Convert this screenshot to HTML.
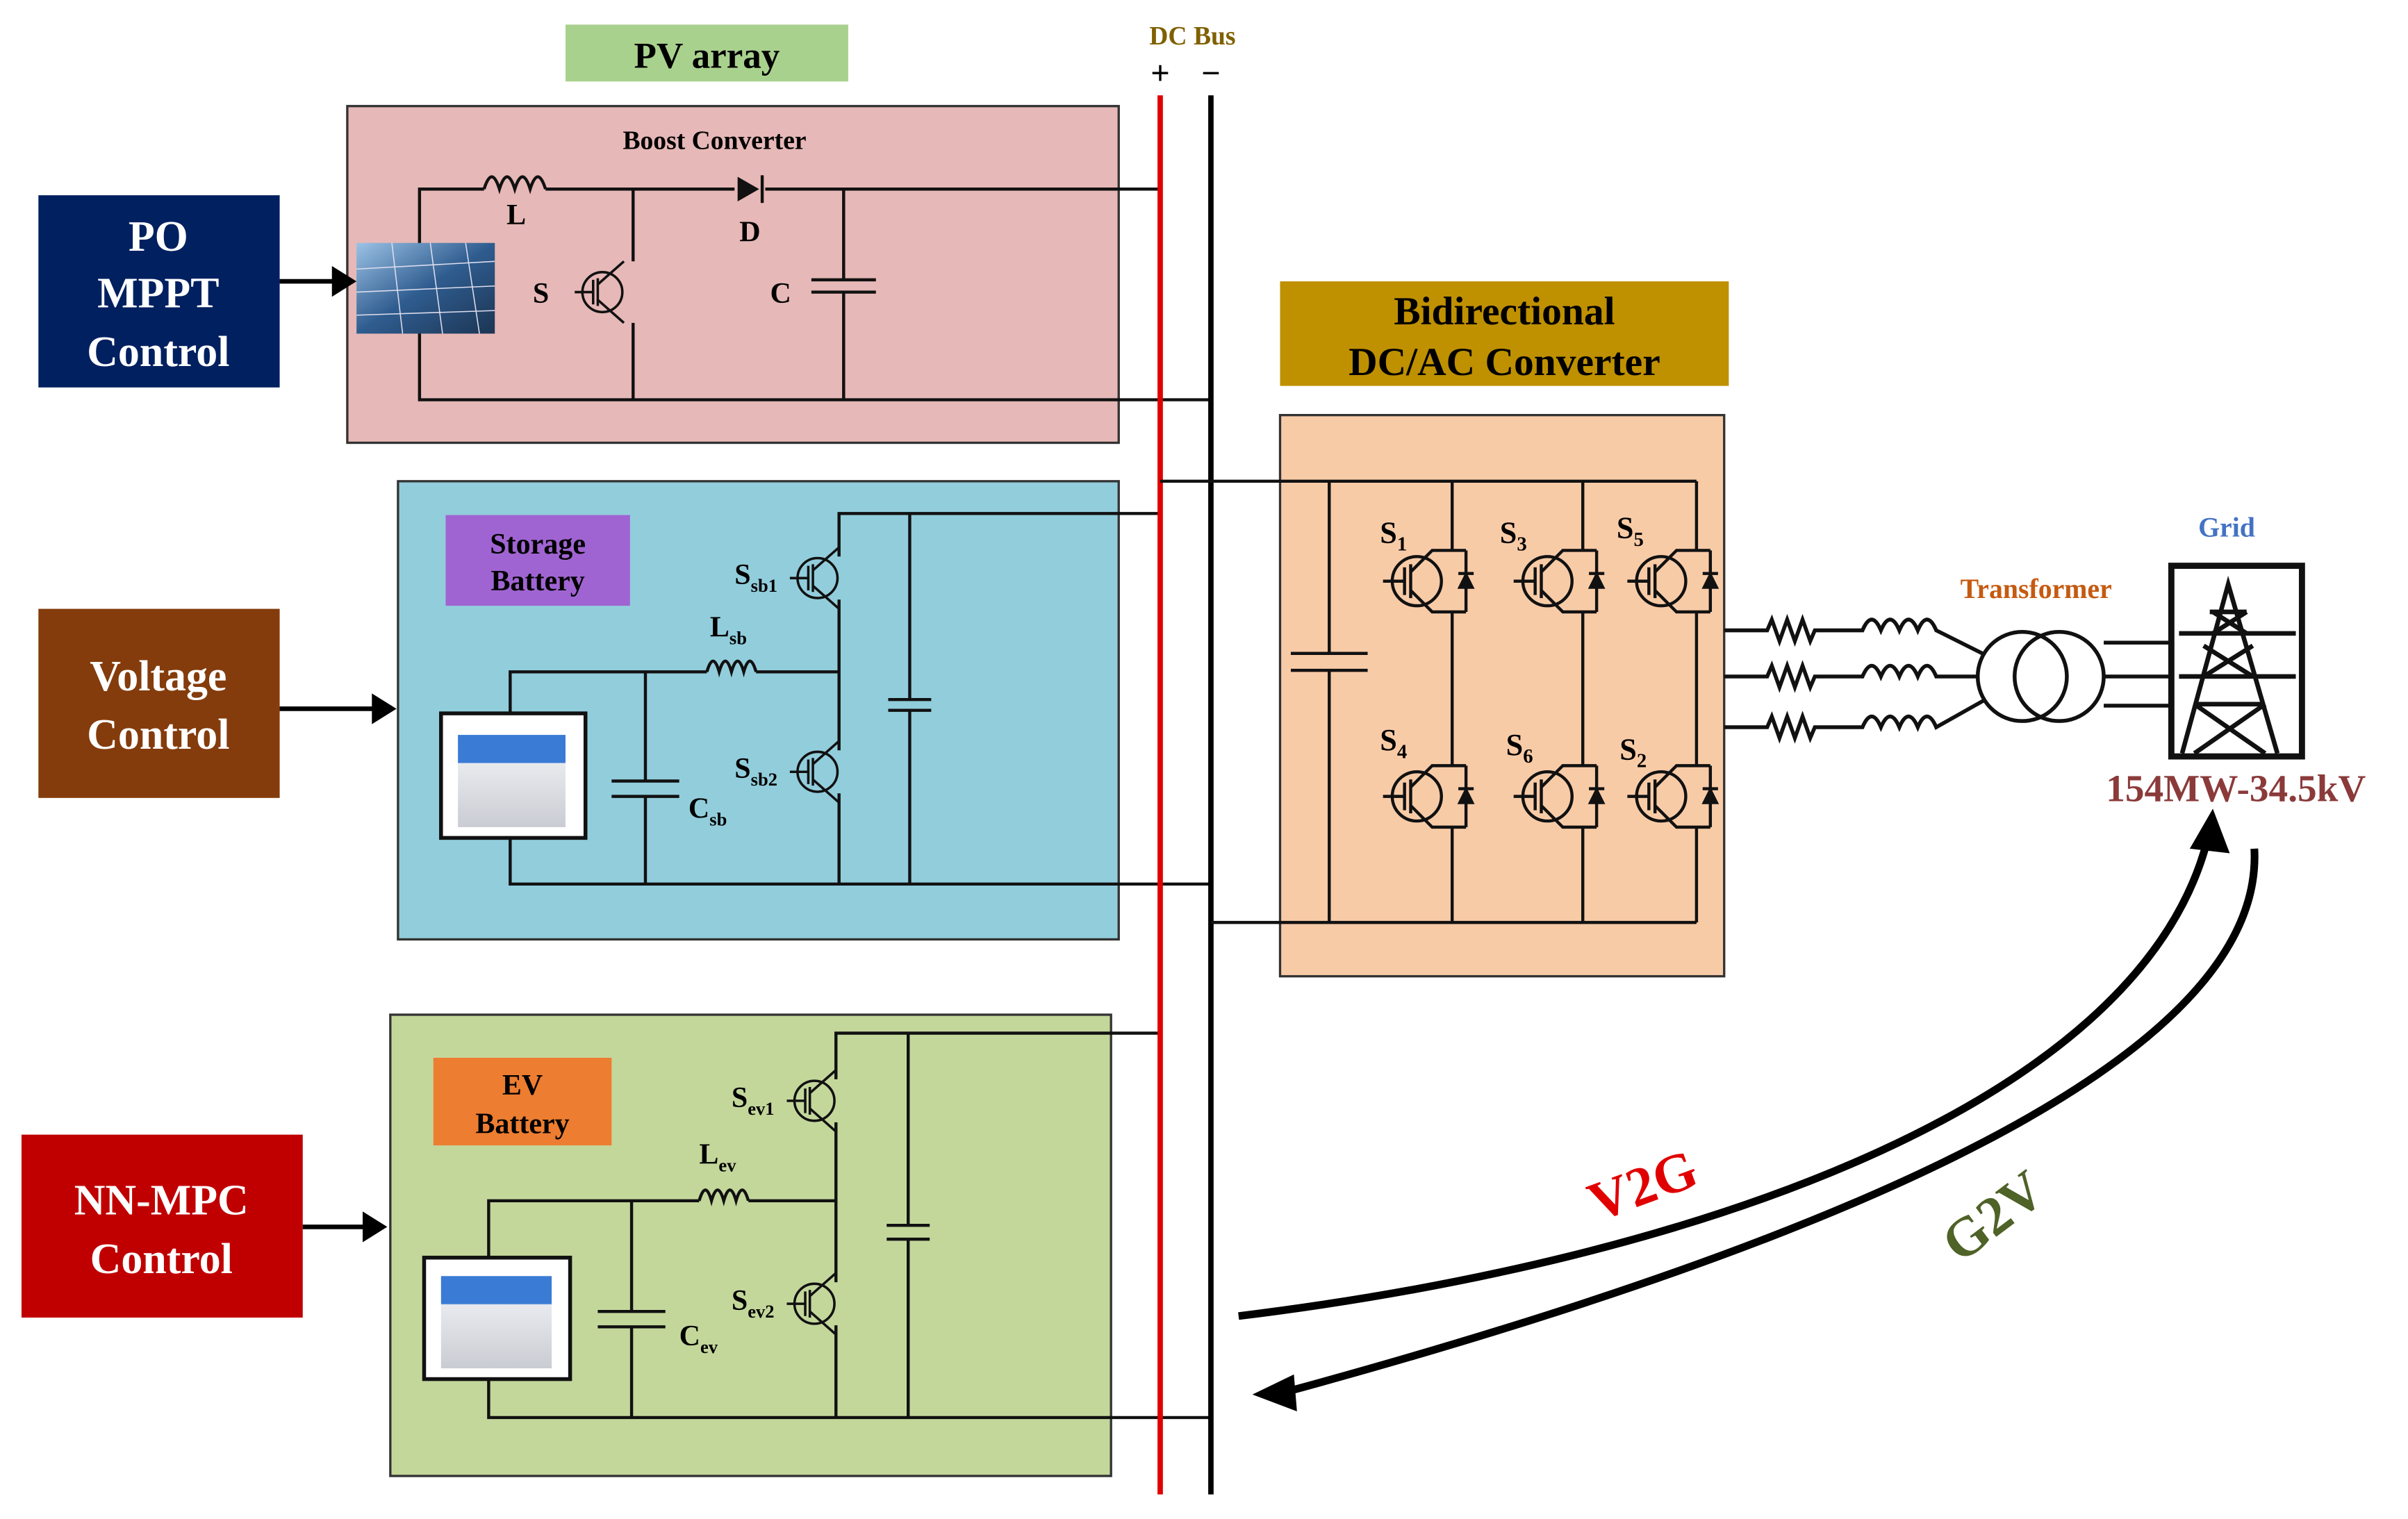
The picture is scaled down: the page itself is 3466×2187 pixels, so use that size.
<!DOCTYPE html>
<html><head><meta charset="utf-8"><style>
html,body{margin:0;padding:0;background:#fff;}
svg{display:block;}
text{font-family:"Liberation Serif",serif;font-weight:bold;}
</style></head><body>
<svg width="3466" height="2187" viewBox="0 0 1567 988" preserveAspectRatio="none" xmlns="http://www.w3.org/2000/svg">
<defs>
<g id="sw" fill="none" stroke="#111" stroke-width="1.6">
  <circle cx="0" cy="0" r="13"/>
  <line x1="-18" y1="0" x2="-6" y2="0"/>
  <line x1="-6" y1="-8" x2="-6" y2="8"/>
  <line x1="-3" y1="-9" x2="-3" y2="9"/>
  <line x1="-3" y1="-5" x2="14" y2="-20"/>
  <line x1="-3" y1="5" x2="14" y2="20"/>
</g>
<g id="igbt" fill="none" stroke="#111" stroke-width="2">
  <circle cx="0" cy="0" r="16"/>
  <line x1="-22" y1="0" x2="-8" y2="0"/>
  <line x1="-8" y1="-9" x2="-8" y2="9"/>
  <line x1="-4" y1="-11" x2="-4" y2="11"/>
  <polyline points="-4,-6 10,-20 32,-20"/>
  <polyline points="-4,6 10,20 32,20"/>
  <polygon points="28,4 36,4 32,-4" fill="#111"/>
  <line x1="27" y1="-5" x2="37" y2="-5"/>
  <line x1="32" y1="-20" x2="32" y2="20"/>
</g>
<linearGradient id="pv" x1="0" y1="0" x2="1" y2="1"><stop offset="0" stop-color="#9cc3e6"/><stop offset="0.5" stop-color="#2f5c8f"/><stop offset="1" stop-color="#1c3553"/></linearGradient>
<linearGradient id="bat" x1="0" y1="0" x2="0" y2="1"><stop offset="0" stop-color="#3a7bd5"/><stop offset="0.3" stop-color="#3a7bd5"/><stop offset="0.31" stop-color="#e8eaee"/><stop offset="1" stop-color="#c9ccd2"/></linearGradient>
</defs>

<rect x="368" y="16" width="184" height="37" fill="#a9d18e"/>
<text x="460" y="44" font-size="24" text-anchor="middle">PV array</text>

<rect x="226" y="69" width="502" height="219" fill="#e6b8b7" stroke="#333" stroke-width="1.5"/>
<text x="465" y="97" font-size="17" text-anchor="middle">Boost Converter</text>
<g fill="none" stroke="#111" stroke-width="2">
<polyline points="273,218 273,123 315,123"/>
<path d="M315,123 q5,-16 10,0 q5,-16 10,0 q5,-16 10,0 q5,-16 10,0"/>
<line x1="355" y1="123" x2="478" y2="123"/>
<line x1="498" y1="123" x2="755" y2="123"/>
<line x1="412" y1="123" x2="412" y2="170"/><line x1="412" y1="210" x2="412" y2="260"/>
<line x1="549" y1="123" x2="549" y2="182"/><line x1="549" y1="190" x2="549" y2="260"/>
<line x1="528" y1="182" x2="570" y2="182"/><line x1="528" y1="190" x2="570" y2="190"/>
<polyline points="273,218 273,260 788,260"/>
</g>
<polygon points="480,115 480,131 494,123" fill="#111"/><line x1="496" y1="114" x2="496" y2="132" stroke="#111" stroke-width="2"/>
<use href="#sw" x="392" y="190"/>
<rect x="232" y="158" width="90" height="59" fill="url(#pv)"/>
<g stroke="#dde" stroke-width="0.7"><line x1="232" y1="175" x2="322" y2="170"/><line x1="232" y1="190" x2="322" y2="186"/><line x1="232" y1="205" x2="322" y2="202"/><line x1="255" y1="158" x2="262" y2="217"/><line x1="280" y1="158" x2="288" y2="217"/><line x1="303" y1="158" x2="312" y2="217"/></g>
<text x="336" y="146" font-size="19" text-anchor="middle">L</text>
<text x="488" y="157" font-size="19" text-anchor="middle">D</text>
<text x="352" y="197" font-size="19" text-anchor="middle">S</text>
<text x="508" y="197" font-size="19" text-anchor="middle">C</text>

<rect x="25" y="127" width="157" height="125" fill="#002060"/>
<g fill="#fff" font-size="28" text-anchor="middle"><text x="103" y="163">PO</text><text x="103" y="200">MPPT</text><text x="103" y="238">Control</text></g>
<line x1="182" y1="183" x2="218" y2="183" stroke="#000" stroke-width="3"/><polygon points="216,173 232,183 216,193" fill="#000"/>

<rect x="259" y="313" width="469" height="298" fill="#92cddc" stroke="#333" stroke-width="1.5"/>
<rect x="290" y="335" width="120" height="59" fill="#a064d2"/>
<g font-size="19" text-anchor="middle"><text x="350" y="360">Storage</text><text x="350" y="384">Battery</text></g>
<g fill="none" stroke="#111" stroke-width="2">
<polyline points="755,334 546,334 546,362"/><line x1="546" y1="390" x2="546" y2="488"/><line x1="546" y1="516" x2="546" y2="575"/>
<line x1="592" y1="334" x2="592" y2="455"/><line x1="592" y1="462" x2="592" y2="575"/>
<line x1="578" y1="455" x2="606" y2="455"/><line x1="578" y1="462" x2="606" y2="462"/>
<polyline points="332,464 332,437 460,437"/>
<path d="M460,437 q4,-14 8,0 q4,-14 8,0 q4,-14 8,0 q4,-14 8,0"/>
<line x1="492" y1="437" x2="546" y2="437"/>
<line x1="420" y1="437" x2="420" y2="508"/><line x1="420" y1="518" x2="420" y2="575"/>
<line x1="398" y1="508" x2="442" y2="508"/><line x1="398" y1="518" x2="442" y2="518"/>
<polyline points="332,545 332,575 788,575"/>
</g>
<use href="#sw" x="532" y="376"/><use href="#sw" x="532" y="502"/>
<rect x="287" y="464" width="94" height="81" fill="#fff" stroke="#111" stroke-width="2.5"/>
<rect x="298" y="478" width="70" height="60" fill="url(#bat)"/>
<g font-size="19"><text x="478" y="380">S<tspan font-size="12" dy="5">sb1</tspan></text>
<text x="462" y="414">L<tspan font-size="12" dy="5">sb</tspan></text>
<text x="478" y="506">S<tspan font-size="12" dy="5">sb2</tspan></text>
<text x="448" y="532">C<tspan font-size="12" dy="5">sb</tspan></text></g>

<rect x="25" y="396" width="157" height="123" fill="#843c0c"/>
<g fill="#fff" font-size="28" text-anchor="middle"><text x="103" y="449">Voltage</text><text x="103" y="487">Control</text></g>
<line x1="182" y1="461" x2="244" y2="461" stroke="#000" stroke-width="3"/><polygon points="242,451 258,461 242,471" fill="#000"/>

<rect x="254" y="660" width="469" height="300" fill="#c4d79b" stroke="#333" stroke-width="1.5"/>
<rect x="282" y="688" width="116" height="57" fill="#ed7d31"/>
<g font-size="19" text-anchor="middle"><text x="340" y="712">EV</text><text x="340" y="737">Battery</text></g>
<g fill="none" stroke="#111" stroke-width="2">
<polyline points="755,672 544,672 544,702"/><line x1="544" y1="730" x2="544" y2="834"/><line x1="544" y1="862" x2="544" y2="922"/>
<line x1="591" y1="672" x2="591" y2="797"/><line x1="591" y1="806" x2="591" y2="922"/>
<line x1="577" y1="797" x2="605" y2="797"/><line x1="577" y1="806" x2="605" y2="806"/>
<polyline points="318,818 318,781 455,781"/>
<path d="M455,781 q4,-14 8,0 q4,-14 8,0 q4,-14 8,0 q4,-14 8,0"/>
<line x1="487" y1="781" x2="544" y2="781"/>
<line x1="411" y1="781" x2="411" y2="853"/><line x1="411" y1="863" x2="411" y2="922"/>
<line x1="389" y1="853" x2="433" y2="853"/><line x1="389" y1="863" x2="433" y2="863"/>
<polyline points="318,897 318,922 788,922"/>
</g>
<use href="#sw" x="530" y="716"/><use href="#sw" x="530" y="848"/>
<rect x="276" y="818" width="95" height="79" fill="#fff" stroke="#111" stroke-width="2.5"/>
<rect x="287" y="830" width="72" height="60" fill="url(#bat)"/>
<g font-size="19"><text x="476" y="720">S<tspan font-size="12" dy="5">ev1</tspan></text>
<text x="455" y="757">L<tspan font-size="12" dy="5">ev</tspan></text>
<text x="476" y="852">S<tspan font-size="12" dy="5">ev2</tspan></text>
<text x="442" y="875">C<tspan font-size="12" dy="5">ev</tspan></text></g>

<rect x="14" y="738" width="183" height="119" fill="#c00000"/>
<g fill="#fff" font-size="28" text-anchor="middle"><text x="105" y="790">NN-MPC</text><text x="105" y="828">Control</text></g>
<line x1="197" y1="798" x2="238" y2="798" stroke="#000" stroke-width="3"/><polygon points="236,788 252,798 236,808" fill="#000"/>

<text x="776" y="29" font-size="17" fill="#7f6000" text-anchor="middle">DC Bus</text>
<text x="755" y="55" font-size="22" text-anchor="middle">+</text>
<text x="788" y="55" font-size="22" text-anchor="middle">−</text>
<line x1="755" y1="62" x2="755" y2="972" stroke="#e00000" stroke-width="3.5"/>
<line x1="788" y1="62" x2="788" y2="972" stroke="#000" stroke-width="3.5"/>

<rect x="833" y="183" width="292" height="68" fill="#bf9000"/>
<g font-size="26" text-anchor="middle"><text x="979" y="211">Bidirectional</text><text x="979" y="244">DC/AC Converter</text></g>
<rect x="833" y="270" width="289" height="365" fill="#f8cba7" stroke="#333" stroke-width="1.5"/>
<g fill="none" stroke="#111" stroke-width="2">
<polyline points="755,313 1104,313"/><polyline points="788,600 1104,600"/>
<line x1="865" y1="313" x2="865" y2="425"/><line x1="865" y1="436" x2="865" y2="600"/>
<line x1="840" y1="425" x2="890" y2="425"/><line x1="840" y1="436" x2="890" y2="436"/>
<line x1="945" y1="313" x2="945" y2="358"/><line x1="945" y1="398" x2="945" y2="498"/><line x1="945" y1="538" x2="945" y2="600"/>
<line x1="1030" y1="313" x2="1030" y2="358"/><line x1="1030" y1="398" x2="1030" y2="498"/><line x1="1030" y1="538" x2="1030" y2="600"/>
<line x1="1104" y1="313" x2="1104" y2="358"/><line x1="1104" y1="398" x2="1104" y2="498"/><line x1="1104" y1="538" x2="1104" y2="600"/>
</g>
<use href="#igbt" x="922" y="378"/><use href="#igbt" x="1007" y="378"/><use href="#igbt" x="1081" y="378"/>
<use href="#igbt" x="922" y="518"/><use href="#igbt" x="1007" y="518"/><use href="#igbt" x="1081" y="518"/>
<g font-size="20"><text x="898" y="353">S<tspan font-size="13" dy="5">1</tspan></text>
<text x="976" y="353">S<tspan font-size="13" dy="5">3</tspan></text>
<text x="1052" y="350">S<tspan font-size="13" dy="5">5</tspan></text>
<text x="898" y="488">S<tspan font-size="13" dy="5">4</tspan></text>
<text x="980" y="491">S<tspan font-size="13" dy="5">6</tspan></text>
<text x="1054" y="494">S<tspan font-size="13" dy="5">2</tspan></text></g>

<g fill="none" stroke="#111" stroke-width="2.5">
<path d="M1122,410 H1150 l3,-7 l5,14 l5,-14 l5,14 l5,-14 l5,14 l3,-7 H1212 q6,-14 12,0 q6,-14 12,0 q6,-14 12,0 q6,-14 12,0 L1290,425"/>
<path d="M1122,440 H1150 l3,-7 l5,14 l5,-14 l5,14 l5,-14 l5,14 l3,-7 H1212 q6,-14 12,0 q6,-14 12,0 q6,-14 12,0 q6,-14 12,0 L1288,440"/>
<path d="M1122,473 H1150 l3,-7 l5,14 l5,-14 l5,14 l5,-14 l5,14 l3,-7 H1212 q6,-14 12,0 q6,-14 12,0 q6,-14 12,0 q6,-14 12,0 L1292,455"/>
<circle cx="1316" cy="440" r="29"/><circle cx="1340" cy="440" r="29"/>
<line x1="1369" y1="418" x2="1412" y2="418"/><line x1="1369" y1="440" x2="1412" y2="440"/><line x1="1369" y1="459" x2="1412" y2="459"/>
</g>
<text x="1325" y="389" font-size="18" fill="#c55a11" text-anchor="middle">Transformer</text>
<text x="1449" y="349" font-size="18" fill="#4472c4" text-anchor="middle">Grid</text>
<rect x="1413" y="368" width="85" height="124" fill="#fff" stroke="#111" stroke-width="4"/>
<g fill="none" stroke="#111" stroke-width="3">
<polyline points="1420,490 1450,380 1482,490"/>
<line x1="1418" y1="412" x2="1494" y2="412"/><line x1="1418" y1="440" x2="1494" y2="440"/>
<line x1="1438" y1="398" x2="1462" y2="398"/>
<line x1="1440" y1="398" x2="1462" y2="412"/><line x1="1462" y1="398" x2="1440" y2="412"/>
<line x1="1434" y1="420" x2="1466" y2="440"/><line x1="1466" y1="420" x2="1434" y2="440"/>
<line x1="1428" y1="458" x2="1474" y2="490"/><line x1="1474" y1="458" x2="1428" y2="490"/>
<line x1="1430" y1="458" x2="1472" y2="458"/>
</g>
<text x="1455" y="521" font-size="25" fill="#8b3a3a" text-anchor="middle">154MW-34.5kV</text>

<path d="M806,856 C1100,820 1390,720 1436,548" fill="none" stroke="#000" stroke-width="5"/>
<polygon points="1425,552 1440,526 1451,555" fill="#000"/>
<path d="M1467,552 C1475,700 1150,820 838,905" fill="none" stroke="#000" stroke-width="5"/>
<polygon points="842,894 815,907 844,918" fill="#000"/>
<text x="1069" y="783" font-size="36" fill="#e00000" text-anchor="middle" transform="rotate(-20 1069 771)">V2G</text>
<text x="1297" y="803" font-size="36" fill="#4f6228" text-anchor="middle" transform="rotate(-37 1297 791)">G2V</text>
</svg>
</body></html>
